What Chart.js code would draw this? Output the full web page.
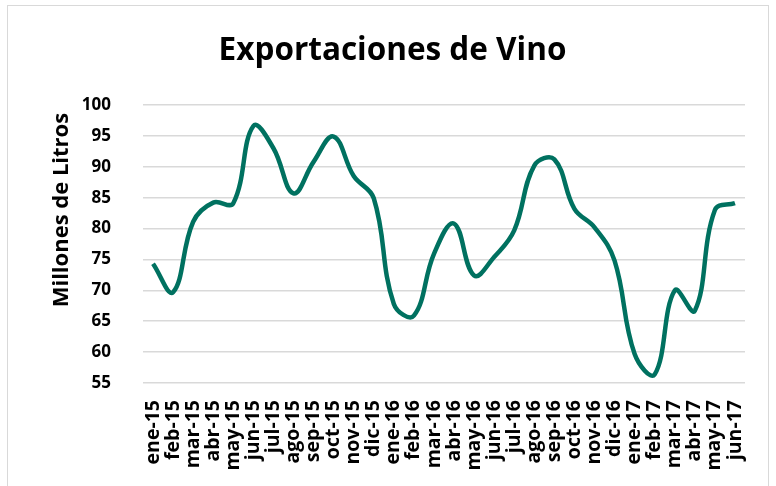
<!DOCTYPE html>
<html>
<head>
<meta charset="utf-8">
<script src="https://cdn.jsdelivr.net/npm/chart.js@4/dist/chart.umd.min.js"></script>
<style>
  html, body { margin: 0; padding: 0; background: #ffffff; }
  #wrap { position: relative; width: 776px; height: 486px; overflow: hidden; }
  #frame { position: absolute; left: 7px; top: 5px; width: 762px; height: 500px; border: 1px solid #d9d9d9; box-sizing: border-box; }
  canvas { position: absolute; left: 0; top: 0; }
</style>
</head>
<body>
<div id="wrap">
  <div id="frame"></div>
  <canvas id="c" width="776" height="486"></canvas>
</div>
<script>
const categories = ["ene-15","feb-15","mar-15","abr-15","may-15","jun-15","jul-15","ago-15","sep-15","oct-15","nov-15","dic-15",
  "ene-16","feb-16","mar-16","abr-16","may-16","jun-16","jul-16","ago-16","sep-16","oct-16","nov-16","dic-16",
  "ene-17","feb-17","mar-17","abr-17","may-17","jun-17"];
const exportaciones = [74.3, 69.7, 81.1, 84.2, 84.1, 96.6, 93.0, 85.7, 90.8, 94.9, 88.5, 84.9,
  67.8, 65.9, 75.9, 80.8, 72.4, 75.4, 79.7, 90.2, 91.2, 83.2, 80.2, 74.8,
  59.7, 56.4, 70.0, 66.7, 83.0, 84.1];
const yTicks = [55, 60, 65, 70, 75, 80, 85, 90, 95, 100];
const chartTitle = "Exportaciones de Vino";
const yTitle = "Millones de Litros";

const FONT = "'Open Sans', sans-serif";

// Draws the y-axis title a little above the axis middle, as in the reference
const yTitlePlugin = {
  id: 'yTitlePlugin',
  afterDraw(chart) {
    const ctx = chart.ctx;
    const area = chart.chartArea;
    const y = area.top + (area.bottom - area.top) * 0.378;
    ctx.save();
    ctx.translate(62, y);
    ctx.rotate(-Math.PI / 2);
    ctx.font = "bold 22px " + FONT;
    ctx.fillStyle = '#000000';
    ctx.textAlign = 'center';
    ctx.textBaseline = 'middle';
    ctx.fillText(yTitle, 0, 0);
    ctx.restore();
  }
};

new Chart(document.getElementById('c'), {
  type: 'line',
  data: {
    labels: categories,
    datasets: [{
      label: chartTitle,
      data: exportaciones,
      borderColor: '#007160',
      borderWidth: 4.5,
      pointRadius: 0,
      tension: 0.4,
      fill: false
    }]
  },
  plugins: [yTitlePlugin],
  options: {
    responsive: false,
    animation: false,
    layout: { padding: { left: 40, right: 31, top: 0, bottom: 0 } },
    plugins: {
      legend: { display: false },
      tooltip: { enabled: false },
      title: {
        display: true,
        text: chartTitle,
        color: '#000000',
        font: { family: FONT, size: 31.5, weight: 'bold' },
        padding: { top: 31.7, bottom: 35.5 }
      }
    },
    scales: {
      x: {
        offset: true,
        grid: { display: false, drawTicks: false },
        border: { display: false },
        ticks: {
          autoSkip: false,
          maxRotation: 90,
          minRotation: 90,
          padding: 17,
          color: '#000000',
          font: { family: FONT, size: 19.5, weight: 'bold' }
        },
        afterFit: (s) => { s.height = 103; }
      },
      y: {
        min: 55,
        max: 100,
        afterBuildTicks: (s) => { s.ticks = yTicks.map(v => ({ value: v })); },
        grid: { color: '#d9d9d9', lineWidth: 1.5, drawTicks: false },
        border: { display: false },
        ticks: {
          padding: 32,
          color: '#000000',
          font: { family: FONT, size: 17, weight: 'bold' }
        },
        afterFit: (s) => { s.width = 103; }
      }
    }
  }
});
</script>
</body>
</html>
